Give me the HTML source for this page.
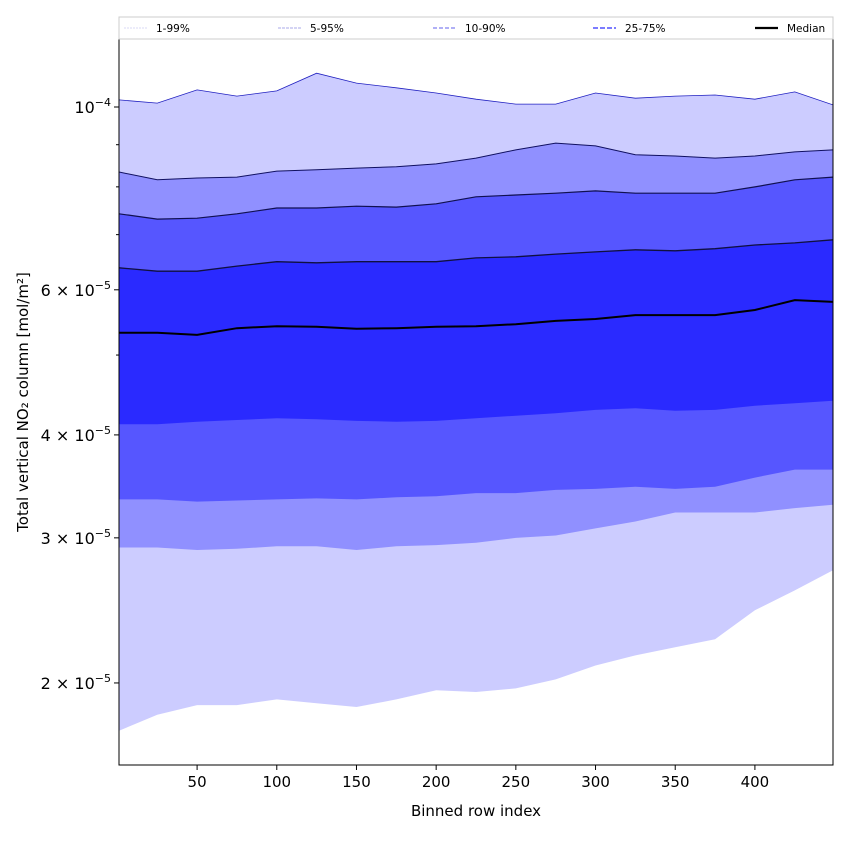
<!DOCTYPE html>
<html><head><meta charset="utf-8"><style>
html,body{margin:0;padding:0;background:#fff;}
svg{display:block;font-family:"DejaVu Sans","Liberation Sans",sans-serif;}
</style></head><body>
<svg id="chart" width="850" height="850"></svg>
<script>
const rows = [1,25,50,75,100,125,150,175,200,225,250,275,300,325,350,375,400,425,449];
const p99 = [10.20,10.11,10.49,10.31,10.46,10.99,10.69,10.55,10.40,10.22,10.08,10.08,10.40,10.25,10.31,10.34,10.22,10.43,10.06];
const p95 = [8.34,8.16,8.20,8.22,8.36,8.39,8.43,8.46,8.53,8.67,8.87,9.04,8.97,8.75,8.72,8.67,8.72,8.82,8.87];
const p90 = [7.42,7.31,7.33,7.42,7.54,7.54,7.58,7.56,7.63,7.78,7.82,7.86,7.91,7.86,7.86,7.86,8.00,8.16,8.22];
const p75 = [6.38,6.32,6.32,6.41,6.49,6.47,6.49,6.49,6.49,6.56,6.58,6.63,6.67,6.71,6.69,6.73,6.80,6.84,6.90];
const p50 = [5.32,5.32,5.29,5.39,5.42,5.41,5.38,5.39,5.41,5.42,5.45,5.50,5.53,5.59,5.59,5.59,5.67,5.83,5.80];
const p25 = [4.12,4.12,4.15,4.17,4.19,4.18,4.16,4.15,4.16,4.19,4.22,4.25,4.29,4.31,4.28,4.29,4.34,4.37,4.40];
const p10 = [3.34,3.34,3.32,3.33,3.34,3.35,3.34,3.36,3.37,3.40,3.40,3.43,3.44,3.46,3.44,3.46,3.55,3.63,3.63];
const p5  = [2.92,2.92,2.90,2.91,2.93,2.93,2.90,2.93,2.94,2.96,3.00,3.02,3.08,3.14,3.22,3.22,3.22,3.26,3.29];
const p1  = [1.75,1.83,1.88,1.88,1.91,1.89,1.87,1.91,1.96,1.95,1.97,2.02,2.10,2.16,2.21,2.26,2.45,2.59,2.74];
const xTicks = [50,100,150,200,250,300,350,400];
const yMajor = [10,6,4,3,2];
const yMinor = [9,8,7,5];
const yLabels = ["10","6","4","3","2"];
const yExps = ["−4","−5","−5","−5","−5"];

const NS="http://www.w3.org/2000/svg";
const svg=document.getElementById('chart');
const L=119,R=833,T=39,B=765;
const xMin=1,xMax=449;
function X(v){return L+(v-xMin)/(xMax-xMin)*(R-L);}
function Y(v){return 107+(1-Math.log10(v))*824;}
function mk(tag,attrs,parent){const e=document.createElementNS(NS,tag);for(const k in attrs)e.setAttribute(k,attrs[k]);(parent||svg).appendChild(e);return e;}
function pts(arr){return arr.map((v,i)=>X(rows[i]).toFixed(1)+','+Y(v).toFixed(1));}
const cp=mk('clipPath',{id:'clip'});mk('rect',{x:L,y:T,width:R-L,height:B-T},cp);
const g=mk('g',{'clip-path':'url(#clip)'});
function bandG(lo,hi,c,n){const d='M'+pts(hi).join('L')+'L'+pts(lo).reverse().join('L')+'Z';const p=mk('path',{d:d,fill:c},g);}
function lineG(a,c,w,n){const p=mk('path',{d:'M'+pts(a).join('L'),fill:'none',stroke:c,'stroke-width':w},g);}
bandG(p1,p99,'#ccccff','band-1-99');
bandG(p5,p95,'#9090ff','band-5-95');
bandG(p10,p90,'#5656ff','band-10-90');
bandG(p25,p75,'#2a2aff','band-25-75');
lineG(p99,'#2020c0',0.8,'line-p99');
lineG(p95,'#101060',1,'line-p95');
lineG(p90,'#101050',1.2,'line-p90');
lineG(p75,'#101040',1.3,'line-p75');
lineG(p50,'#000000',2,'median-line');
const fr=mk('rect',{x:L,y:T,width:R-L,height:B-T,fill:'none',stroke:'#000','stroke-width':1});

xTicks.forEach(v=>{
  const t=mk('line',{x1:X(v),x2:X(v),y1:B,y2:B+5,stroke:'#000'});
  
  const tx=mk('text',{x:X(v),y:B+22,'font-size':15,'text-anchor':'middle'});tx.textContent=v;
  
});
yMajor.forEach((v,i)=>{
  const y=Y(v);
  const t=mk('line',{x1:L-5,x2:L,y1:y,y2:y,stroke:'#000'});
  
  const tx=mk('text',{x:L-8,y:y+6,'font-size':16,'text-anchor':'end'});
  
  if(i===0){tx.innerHTML='10<tspan dy="-7" font-size="11">'+yExps[i]+'</tspan>';}
  else{tx.innerHTML=yLabels[i]+' × 10<tspan dy="-7" font-size="11">'+yExps[i]+'</tspan>';}
});
yMinor.forEach(v=>{
  const y=Y(v);
  const t=mk('line',{x1:L-3,x2:L,y1:y,y2:y,stroke:'#000'});
  
});
const xt=mk('text',{x:(L+R)/2,y:816,'font-size':15,'text-anchor':'middle'});xt.textContent='Binned row index';

const yt=mk('text',{x:28,y:(T+B)/2,'font-size':15,'text-anchor':'middle',transform:'rotate(-90 28 '+((T+B)/2)+')'});
yt.textContent='Total vertical NO₂ column [mol/m²]';

const lg=mk('g',{});
mk('rect',{x:119,y:17,width:714,height:22,fill:'#fff',stroke:'#ccc'},lg);
const legItems=[['1-99%',124,'#d8d8f4',1,'2,1'],['5-95%',278,'#a8a8e8',1,'3,1'],['10-90%',433,'#8080f0',1.3,'4,2'],['25-75%',593,'#6a6aff',1.8,'5,2'],['Median',755,'#000',2.2,'']];
legItems.forEach(it=>{
  const l=mk('line',{x1:it[1],x2:it[1]+23,y1:28,y2:28,stroke:it[2],'stroke-width':it[3],'stroke-dasharray':it[4]},lg);
  
  const t=mk('text',{x:it[1]+32,y:32,'font-size':10.5},lg);t.textContent=it[0];
  
});
</script>
</body></html>
